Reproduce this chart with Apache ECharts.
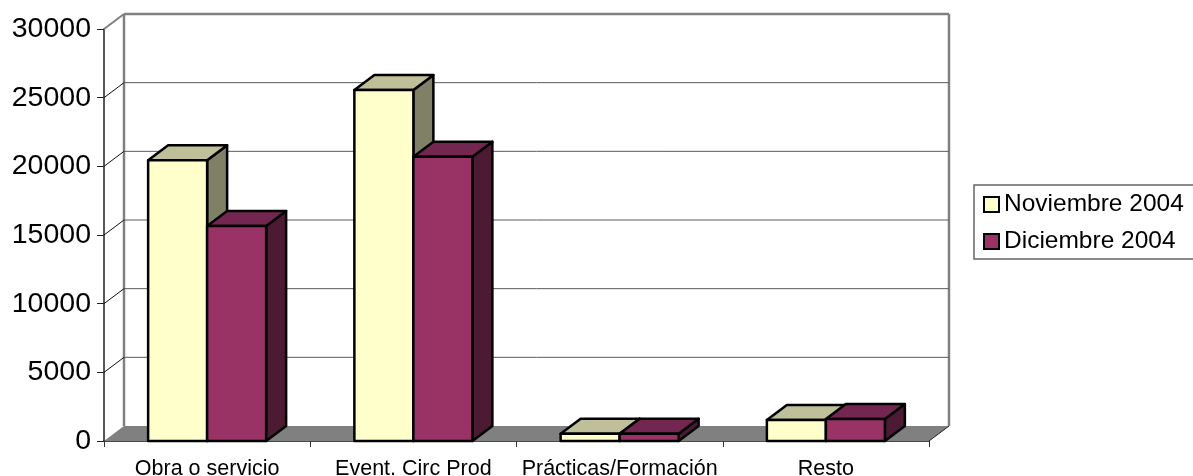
<!DOCTYPE html>
<html><head><meta charset="utf-8">
<style>html,body{margin:0;padding:0;background:#fff;overflow:hidden}#c{width:1193px;height:476px}</style>
<script src="https://cdn.jsdelivr.net/npm/echarts@6/dist/echarts.min.js"></script>
</head><body><div id="c"></div>
<script>
const categories = ['Obra o servicio', 'Event. Circ Prod', 'Prácticas/Formación', 'Resto'];
const seriesNames = ['Noviembre 2004', 'Diciembre 2004'];
const noviembre = [20450, 25550, 520, 1530];
const diciembre = [15650, 20700, 520, 1600];
const yTicks = [5000, 10000, 15000, 20000, 25000, 30000];

const DX = 20, DY = -15, BAR_RATIO = 59 / 206.25;
const FONT = '"Liberation Sans", Arial, sans-serif';
const palette = [
  {front: '#FFFFCC', top: '#BFBF99', side: '#808066'},
  {front: '#993366', top: '#732650', side: '#4D1A33'}
];

function poly(points, fill) {
  return {type: 'polygon', shape: {points},
    style: {fill, stroke: '#000', lineWidth: 2.5, lineJoin: 'round'}};
}
function barRenderer(idx) {
  return function (params, api) {
    const base = api.coord([api.value(0), 0]);
    const topP = api.coord([api.value(0), api.value(1)]);
    const w = api.size([1, 0])[0] * BAR_RATIO;
    const x0 = base[0] + (idx - 1) * w, x1 = x0 + w, y0 = base[1], y1 = topP[1];
    const c = palette[idx];
    return {type: 'group', children: [
      poly([[x1, y0], [x1 + DX, y0 + DY], [x1 + DX, y1 + DY], [x1, y1]], c.side),
      poly([[x0, y1], [x1, y1], [x1 + DX, y1 + DY], [x0 + DX, y1 + DY]], c.top),
      poly([[x0, y0], [x1, y0], [x1, y1], [x0, y1]], c.front)
    ]};
  };
}
function wallRenderer(params, api) {
  const g = params.coordSys, L = g.x, R = g.x + g.width, B = g.y + g.height;
  const wall = {stroke: '#808080', lineWidth: 2.5};
  const line = (x1, y1, x2, y2, style) => ({type: 'line', shape: {x1, y1, x2, y2}, style});
  return {type: 'group', children: [
    {type: 'polygon', shape: {points: [[L, B], [R, B], [R + DX, B + DY], [L + DX, B + DY]]},
      style: {fill: '#808080'}},
    line(L + DX, g.y + DY, L + DX, B + DY, wall),
    line(R + DX, g.y + DY, R + DX, B + DY, wall),
    line(R, B, R + DX, B + DY, {stroke: '#222', lineWidth: 1})
  ]};
}
function gridRenderer(params, api) {
  const g = params.coordSys, L = g.x, R = g.x + g.width;
  const v = api.value(0), y = api.coord([0, v])[1];
  const isTop = v === 30000;
  const back = isTop ? {stroke: '#808080', lineWidth: 2.5} : {stroke: '#5a5a5a', lineWidth: 1};
  const side = isTop ? {stroke: '#808080', lineWidth: 2} : {stroke: '#111', lineWidth: 1};
  return {type: 'group', children: [
    {type: 'line', shape: {x1: L + DX, y1: y + DY, x2: R + DX, y2: y + DY}, style: back},
    {type: 'line', shape: {x1: L, y1: y, x2: L + DX, y2: y + DY}, style: side}
  ]};
}

const chart = echarts.init(document.getElementById('c'), null, {renderer: 'canvas'});
chart.setOption({
  animation: false,
  backgroundColor: '#fff',
  grid: {left: 104, top: 29, width: 825, height: 412, containLabel: false, outerBoundsMode: 'none'},
  legend: {
    orient: 'vertical', left: 974, top: 185,
    padding: [7, 40, 5, 9], itemGap: 12, itemWidth: 15, itemHeight: 15,
    borderColor: '#666', borderWidth: 1.5, backgroundColor: '#fff',
    textStyle: {fontFamily: FONT, fontSize: 24.5, color: '#000', padding: [1, 0, 0, 0]},
    data: seriesNames.map((name, i) => ({name, icon: 'rect',
      itemStyle: {color: palette[i].front, borderColor: '#000', borderWidth: 2}}))
  },
  xAxis: {
    type: 'category', data: categories,
    axisLine: {lineStyle: {color: '#111', width: 1.5}},
    axisTick: {show: true, alignWithLabel: false, length: 6, lineStyle: {color: '#333', width: 1}},
    axisLabel: {fontFamily: FONT, fontSize: 21.5, color: '#000', margin: 17, interval: 0, hideOverlap: false}
  },
  yAxis: {
    type: 'value', min: 0, max: 30000, interval: 5000,
    axisLine: {show: true, lineStyle: {color: '#222', width: 1.5}},
    axisTick: {show: true, length: 7, lineStyle: {color: '#222', width: 1}},
    splitLine: {show: false},
    axisLabel: {fontFamily: FONT, fontSize: 28.5, color: '#000', margin: 13, padding: [6, 0, 0, 0],
      formatter: v => String(v)}
  },
  series: [
    {type: 'custom', silent: true, clip: false, z: 1, data: [[0]], renderItem: wallRenderer},
    {type: 'custom', silent: true, clip: false, z: 1, data: yTicks.map(v => [v]), renderItem: gridRenderer,
      encode: {y: 0}},
    {type: 'custom', name: seriesNames[0], silent: true, clip: false, z: 3,
      itemStyle: {color: palette[0].front},
      data: noviembre.map((v, i) => [i, v]), renderItem: barRenderer(0), encode: {x: 0, y: 1}},
    {type: 'custom', name: seriesNames[1], silent: true, clip: false, z: 4,
      itemStyle: {color: palette[1].front},
      data: diciembre.map((v, i) => [i, v]), renderItem: barRenderer(1), encode: {x: 0, y: 1}}
  ]
});
</script></body></html>
